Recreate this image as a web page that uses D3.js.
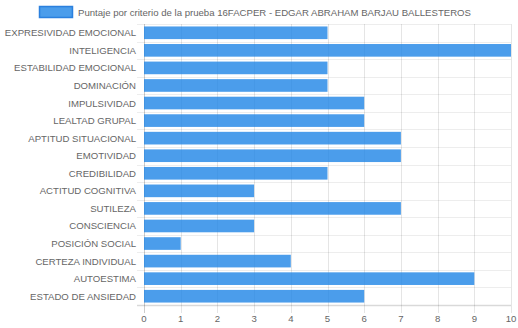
<!DOCTYPE html>
<html><head><meta charset="utf-8">
<script src="https://cdn.jsdelivr.net/npm/d3@7"></script>
<style>body{margin:0;background:#fff}svg{display:block}</style>
</head><body>
<svg id="c" width="518" height="328"></svg>
<script>
const categories = ["EXPRESIVIDAD EMOCIONAL","INTELIGENCIA","ESTABILIDAD EMOCIONAL","DOMINACIÓN","IMPULSIVIDAD","LEALTAD GRUPAL","APTITUD SITUACIONAL","EMOTIVIDAD","CREDIBILIDAD","ACTITUD COGNITIVA","SUTILEZA","CONSCIENCIA","POSICIÓN SOCIAL","CERTEZA INDIVIDUAL","AUTOESTIMA","ESTADO DE ANSIEDAD"];
const values = [5,10,5,5,6,6,7,7,5,3,7,3,1,4,9,6];
const xTicks = [0,1,2,3,4,5,6,7,8,9,10];
const seriesName = "Puntaje por criterio de la prueba 16FACPER - EDGAR ABRAHAM BARJAU BALLESTEROS";

const svg = d3.select("#c");
const L = 144, R = 511, T = 24, B = 305;
const font = "'Liberation Sans', Arial, sans-serif";
const fs = 9.6;
const x = d3.scaleLinear().domain([0,10]).range([L,R]);
const y = d3.scaleBand().domain(categories).range([T,B]);
const fill = "rgba(30,132,230,0.8)";
const stroke = "rgba(30,120,220,0.9)";

// legend
svg.append("rect").attr("x",39.5).attr("y",6.5).attr("width",33).attr("height",11)
  .attr("fill",fill).attr("stroke",stroke).attr("stroke-width",1.5);
svg.append("text").attr("x",78).attr("y",12).attr("dominant-baseline","central")
  .attr("font-family",font).attr("font-size",fs).attr("fill","#666").text(seriesName);

// horizontal grid lines (category boundaries)
const g = svg.append("g");
const bounds = categories.map(c=>y(c)).concat([B]);
bounds.forEach((v,i)=>{
  g.append("line").attr("x1",L-7).attr("x2",R).attr("y1",Math.round(v)+0.5).attr("y2",Math.round(v)+0.5)
   .attr("stroke", i===bounds.length-1 ? "rgba(0,0,0,0.15)" : "rgba(0,0,0,0.07)").attr("stroke-width",i===bounds.length-1?1.5:1);
});
// vertical grid
xTicks.forEach(t=>{
  g.append("line").attr("x1",Math.round(x(t))+0.5).attr("x2",Math.round(x(t))+0.5)
   .attr("y1",T).attr("y2",B+8)
   .attr("stroke", t===0 ? "rgba(0,0,0,0.2)" : "rgba(0,0,0,0.1)").attr("stroke-width",1);
});

// bars
const bw = y.bandwidth()*0.72;
svg.append("g").selectAll("rect").data(values).join("rect")
  .attr("x",x(0)).attr("y",(d,i)=>y(categories[i])+(y.bandwidth()-bw)/2)
  .attr("width",d=>x(d)-x(0)).attr("height",bw)
  .attr("fill",fill);

// y labels
svg.append("g").selectAll("text").data(categories).join("text")
  .attr("x",L-8).attr("y",d=>y(d)+y.bandwidth()/2).attr("dominant-baseline","central")
  .attr("text-anchor","end").attr("font-family",font).attr("font-size",fs).attr("fill","#666")
  .text(d=>d);

// x labels
svg.append("g").selectAll("text").data(xTicks).join("text")
  .attr("x",d=>x(d)).attr("y",318.5).attr("dominant-baseline","central")
  .attr("text-anchor","middle").attr("font-family",font).attr("font-size",fs).attr("fill","#666")
  .text(d=>d);
</script>
</body></html>
